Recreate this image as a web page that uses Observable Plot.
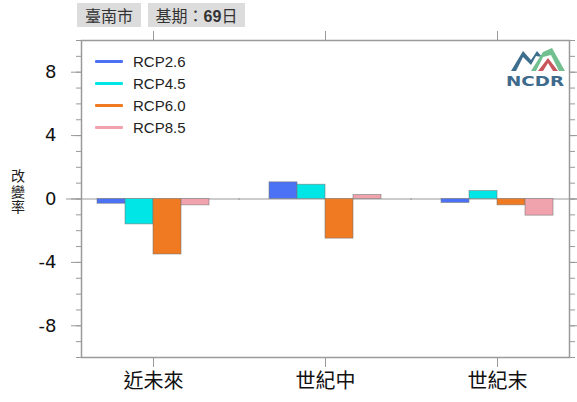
<!DOCTYPE html>
<html><head><meta charset="utf-8">
<script src="https://cdn.jsdelivr.net/npm/d3@7"></script>
<script src="https://cdn.jsdelivr.net/npm/@observablehq/plot@0.6"></script>
<style>
body{margin:0;background:#fff;}
#wrap{position:relative;width:577px;height:402px;overflow:hidden;}
#chart{position:absolute;left:0;top:0;}
.tag{position:absolute;top:3px;height:24px;background:#dcdcdc;font-family:"Noto Sans CJK TC",sans-serif;font-size:16px;line-height:24px;color:#333;text-align:center;white-space:nowrap;}
.tag b{font-family:"Liberation Sans",Arial,sans-serif;font-weight:bold;font-size:16px;}
#ylab{position:absolute;left:9px;top:169px;font-family:"Noto Sans CJK TC",sans-serif;font-size:14px;line-height:17px;letter-spacing:1.5px;color:#222;writing-mode:vertical-rl;text-orientation:upright;}
#legend{position:absolute;left:95px;top:50px;font-family:"Liberation Sans",Arial,sans-serif;font-size:15px;color:#222;}
#legend .row{height:22px;display:flex;align-items:center;}
#legend .sw{width:28px;height:3px;margin-right:10px;border-radius:1px;}
#logo{position:absolute;left:503px;top:44px;}
</style></head>
<body>
<div id="wrap">
  <div id="chart"></div>
  <div class="tag" id="tagCity" style="left:77px;width:64px;"></div>
  <div class="tag" id="tagBase" style="left:148px;width:97px;"></div>
  <div id="ylab"></div>
  <div id="legend"></div>
  <svg id="logo" width="64" height="46" viewBox="0 0 64 46">
    <polygon points="8,27 20,7 28,16 34,7 39,13 33,12 28,21 20,13 13,27" fill="#3e6e8e"/>
    <polygon points="28,27 40,8 49,4 62,27 56,27 48,11 40,13 33,27" fill="#72c08f"/>
    <polygon points="35,27 45,14 55,27 50,27 45,19 40,27" fill="#c8575c"/>
    <text x="32" y="42" text-anchor="middle" font-family="DejaVu Sans, sans-serif" font-weight="bold" font-size="14" fill="#3e6a8c" textLength="58" lengthAdjust="spacingAndGlyphs">NCDR</text>
  </svg>
</div>
<script>
const categories = ["近未來", "世紀中", "世紀末"];
const series = ["RCP2.6", "RCP4.5", "RCP6.0", "RCP8.5"];
const colors = ["#4b71f5", "#00e6e6", "#f07a22", "#f0a2ad"];
const rcp26 = [-0.3, 1.05, -0.25];
const rcp45 = [-1.6, 0.9, 0.5];
const rcp60 = [-3.5, -2.5, -0.4];
const rcp85 = [-0.4, 0.25, -1.05];
const yTicks = [-8, -4, 0, 4, 8];
const yMinorTicks = d3.range(-10, 11);
const yDomain = [-10, 10];
const cityName = "臺南市";
const baseLabel = "基期：";
const baseDays = 69;
const baseUnit = "日";
const yLabel = "改變率";

const seriesValues = [rcp26, rcp45, rcp60, rcp85];
const rows = [];
categories.forEach((c, i) => series.forEach((s, j) => rows.push({cat: c, series: s, value: seriesValues[j][i]})));

document.getElementById("tagCity").textContent = cityName;
document.getElementById("tagBase").innerHTML = baseLabel + "<b>" + baseDays + "</b>" + baseUnit;
document.getElementById("ylab").textContent = yLabel;
const leg = document.getElementById("legend");
series.forEach((s, j) => {
  const r = document.createElement("div"); r.className = "row";
  r.innerHTML = `<span class="sw" style="background:${colors[j]}"></span><span>${s}</span>`;
  leg.appendChild(r);
});

const tickColor = "#999";
const chart = Plot.plot({
  width: 577, height: 402,
  marginLeft: 81, marginRight: 8, marginTop: 40, marginBottom: 45,
  style: {fontFamily: "'DejaVu Sans', sans-serif", color: "#111", background: "transparent"},
  fx: {domain: categories, paddingInner: 0.163, paddingOuter: 0, label: null},
  x: {domain: series, padding: 0, insetLeft: 15, insetRight: 15, axis: null},
  y: {domain: yDomain, label: null},
  color: {domain: series, range: colors},
  marks: [
    Plot.ruleY([0], {stroke: "#999", strokeWidth: 1, insetLeft: -15, insetRight: -15}),
    Plot.barY(rows, {fx: "cat", x: "series", y: "value", fill: "series", stroke: "#777", strokeWidth: 0.8, strokeOpacity: 0.7}),
    Plot.axisY({anchor: "left", ticks: yMinorTicks, tickSize: 5, tickFormat: () => "", stroke: tickColor, label: null}),
    Plot.axisY({anchor: "left", ticks: yTicks, tickSize: 10, tickPadding: 15, tickFormat: d => String(d), stroke: tickColor, fontSize: 18, label: null}),
    Plot.axisY({anchor: "right", ticks: yMinorTicks, tickSize: 5, tickFormat: () => "", stroke: tickColor, label: null}),
    Plot.axisY({anchor: "right", ticks: yTicks, tickSize: 9, tickFormat: () => "", stroke: tickColor, label: null}),
    Plot.axisFx({anchor: "bottom", tickSize: 10, tickPadding: 6, stroke: tickColor, fontSize: 20, fontFamily: "'Noto Sans CJK TC', sans-serif", label: null}),
    Plot.axisFx({anchor: "top", tickSize: 10, tickFormat: () => "", stroke: tickColor, label: null}),
    Plot.frame({facet: "super", stroke: "#9a9a9a", strokeWidth: 1.5})
  ]
});
document.getElementById("chart").appendChild(chart);
</script>
</body></html>
